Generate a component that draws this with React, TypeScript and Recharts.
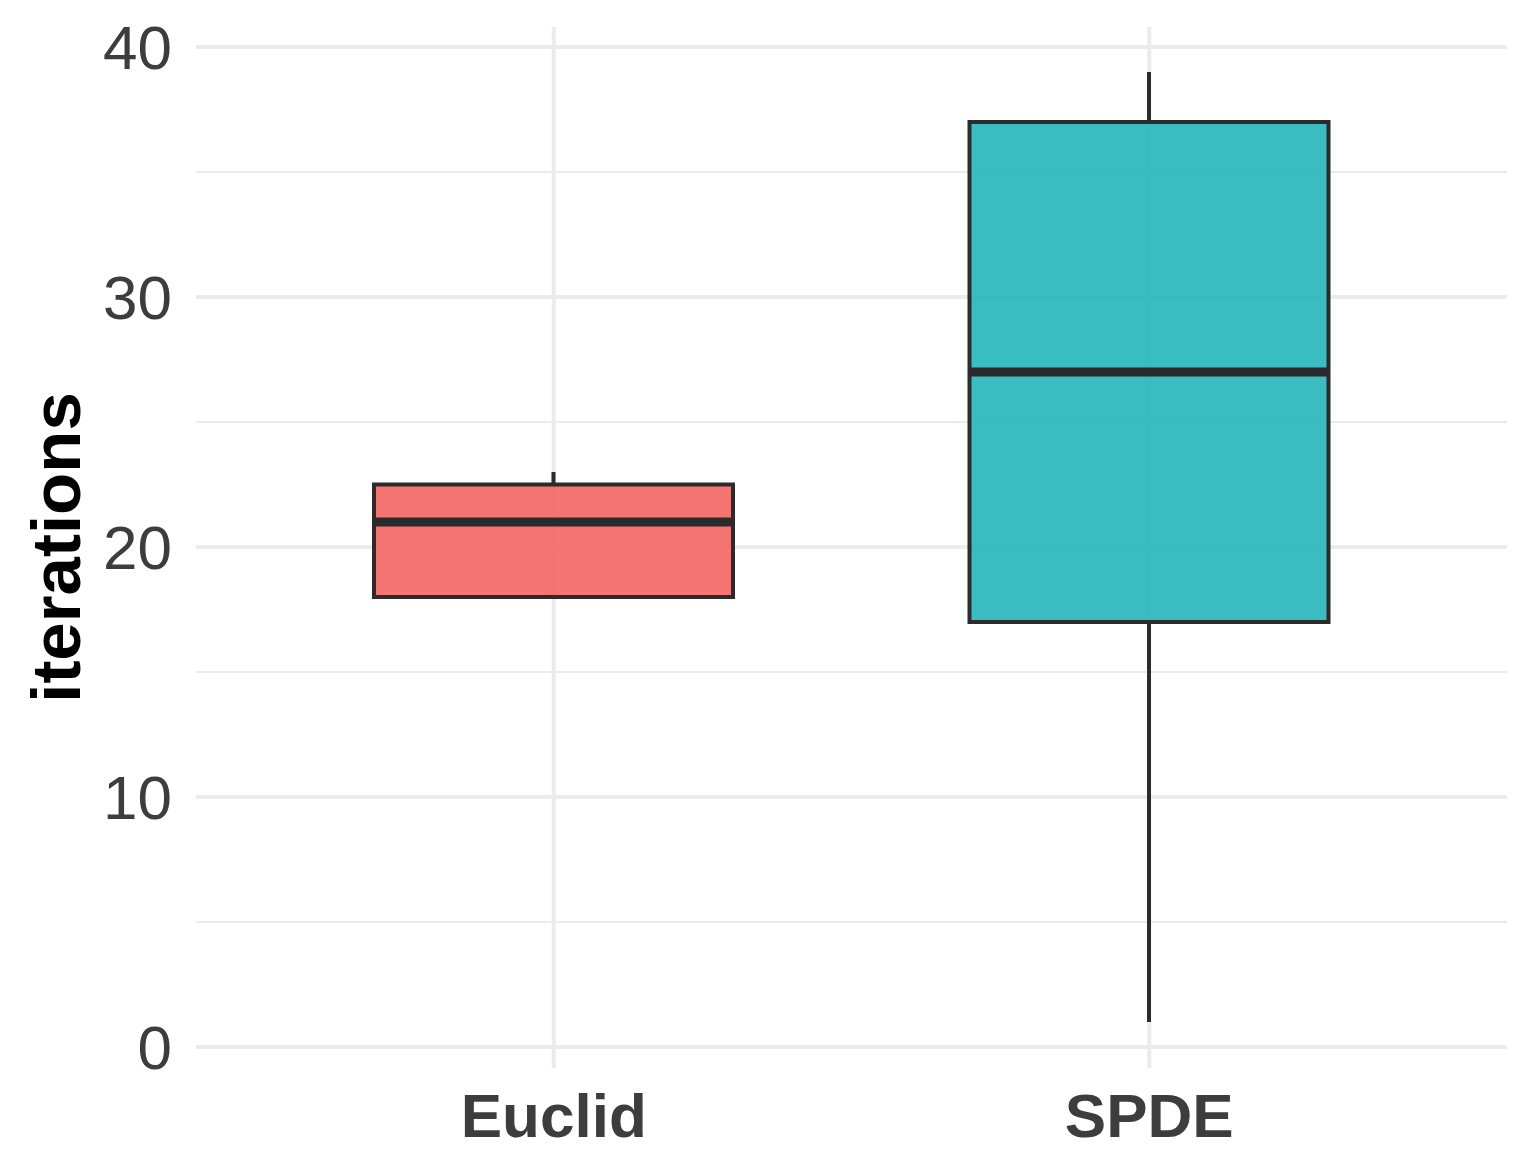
import React from 'react';
import { ComposedChart, Bar, XAxis, YAxis, CartesianGrid } from 'recharts';

const categories = ['Euclid', 'SPDE'];
const whiskerLow = [18, 1];
const lowerQuartile = [18, 17];
const medians = [21, 27];
const upperQuartile = [22.5, 37];
const whiskerHigh = [23, 39];
const boxColors = ['#F36663', '#23B6BA'];
const yTicks = [0, 10, 20, 30, 40];
const yMinorTicks = [5, 15, 25, 35];

const data = categories.map((name, i) => ({
  name,
  min: whiskerLow[i],
  q1: lowerQuartile[i],
  median: medians[i],
  q3: upperQuartile[i],
  max: whiskerHigh[i],
  color: boxColors[i],
}));

const FONT = '"Liberation Sans", Arial, sans-serif';
const INK = '#2B2B2B';

const BoxShape = (props: any) => {
  const { x, y, width, height, payload } = props;
  const { min, q1, median, q3, max, color } = payload;
  const span = max - min;
  const pix = (v: number) => (span === 0 ? y : y + (height * (max - v)) / span);
  const cx = x + width / 2;
  const yMax = pix(max);
  const yQ3 = pix(q3);
  const yMed = pix(median);
  const yQ1 = pix(q1);
  const yMin = pix(min);
  return (
    <g>
      <line x1={cx} x2={cx} y1={yMax} y2={yQ3} stroke={INK} strokeWidth={4} />
      <line x1={cx} x2={cx} y1={yQ1} y2={yMin} stroke={INK} strokeWidth={4} />
      <rect
        x={x}
        y={yQ3}
        width={width}
        height={yQ1 - yQ3}
        fill={color}
        fillOpacity={0.9}
        stroke={INK}
        strokeWidth={4}
      />
      <line x1={x} x2={x + width} y1={yMed} y2={yMed} stroke={INK} strokeWidth={9} />
    </g>
  );
};

const YTitle = (props: any) => {
  const vb = props.viewBox || {};
  const cy = (vb.y || 0) + (vb.height || 0) / 2;
  return (
    <text
      x={80}
      y={cy}
      transform={`rotate(-90, 80, ${cy})`}
      textAnchor="middle"
      fontFamily={FONT}
      fontWeight="bold"
      fontSize={69}
      fill="#000000"
    >
      iterations
    </text>
  );
};

export default function App() {
  return (
    <div style={{ position: 'absolute', left: 0, top: 0, width: 1534, height: 1176, background: '#fff' }}>
      <ComposedChart
        width={1534}
        height={1176}
        data={data}
        margin={{ top: 27, right: 27, left: 0, bottom: 0 }}
      >
        <CartesianGrid
          stroke="#EBEBEB"
          strokeWidth={2}
          vertical={false}
          horizontalValues={yMinorTicks}
          syncWithTicks
        />
        <CartesianGrid
          stroke="#EBEBEB"
          strokeWidth={4}
          horizontalValues={yTicks}
          syncWithTicks
        />
        <XAxis
          dataKey="name"
          type="category"
          padding={{ left: 60, right: 60 }}
          height={108}
          axisLine={false}
          tickLine={false}
          tickSize={0}
          tickMargin={25}
          tick={{ fontFamily: FONT, fontSize: 62, fontWeight: 'bold', fill: '#3D3D3D' }}
        />
        <YAxis
          type="number"
          domain={[-0.84, 40.8]}
          ticks={yTicks}
          interval={0}
          allowDataOverflow
          width={196}
          axisLine={false}
          tickLine={false}
          tickSize={0}
          tickMargin={24}
          tick={{ fontFamily: FONT, fontSize: 62, fill: '#3D3D3D' }}
          label={{ content: YTitle }}
        />
        <Bar
          dataKey={(d: any) => [d.min, d.max]}
          barSize={359}
          shape={BoxShape}
          isAnimationActive={false}
        />
      </ComposedChart>
    </div>
  );
}
